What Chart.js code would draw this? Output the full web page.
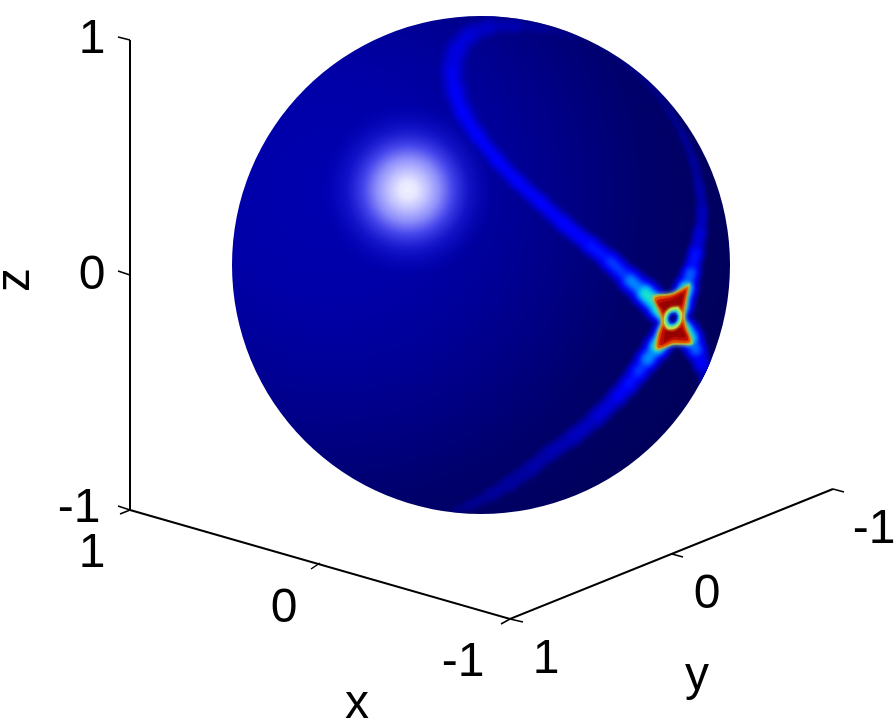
<!DOCTYPE html>
<html>
<head>
<meta charset="utf-8">
<style>
    body { margin: 0; background: #fff; }
    canvas { display: block; }
</style>
<script src="https://cdn.jsdelivr.net/npm/chart.js@4"></script>
</head>
<body>
<canvas id="myChart" width="896" height="721"></canvas>
<script>
const viewU = [-481, 415];
const viewV = [-456, 265];

const sphereU = [0];
const sphereV = [0];
const sphereR = [249];

const spotU = [-73];
const spotV = [75];
const spotR = [88];

// first ridge: over the top, down through the knot, out to the lower right
const ridgeAU = [94, 64, 36, 9, -11, -24, -29, -26, -18, -4, 16, 36, 59, 82, 109, 129, 149, 164, 179, 192, 203, 209, 215, 221, 225, 227];
const ridgeAV = [228, 236, 239, 238, 230, 215, 195, 175, 152, 130, 105, 84, 63, 42, 20, 4, -15, -28, -43, -55, -66, -73, -85, -100, -115, -127];
const ridgeALevel = [.02, .03, .05, .07, .09, .10, .11, .115, .12, .12, .12, .125, .125, .13, .15, .18, .24, .34, .5, .5, .5, .34, .2, .1, .05, .02];
const ridgeASpread = [3, 3.5, 4.5, 6, 8, 9, 9, 9, 8, 7, 6.5, 6, 6, 5.5, 5.5, 5.5, 6, 6.5, 6.5, 6, 6, 6, 5, 4.5, 4, 3];

// second ridge: from the bottom, through the knot, up along the limb
const ridgeBU = [-26, -11, 9, 29, 49, 69, 92, 116, 136, 147, 157, 166, 176, 186, 192, 199, 205, 210, 215, 219, 221, 218, 212, 202, 189, 169, 144, 119];
const ridgeBV = [-245, -240, -230, -218, -204, -188, -172, -152, -132, -120, -107, -95, -82, -67, -55, -40, -23, -7, 13, 33, 55, 80, 105, 130, 153, 180, 203, 220];
const ridgeBLevel = [.02, .028, .035, .042, .048, .055, .068, .085, .115, .14, .18, .25, .36, .5, .5, .5, .32, .2, .13, .09, .065, .05, .045, .04, .035, .03, .025, .02];
const ridgeBSpread = [4, 5, 5.5, 6, 6, 5.5, 5.5, 5.5, 5.5, 5.5, 5.5, 5.5, 6, 6, 6, 6, 5, 4.5, 4, 3.5, 3.5, 3, 3, 2.5, 2.5, 2.5, 3, 3];

const contourLevels = [.02, .035, .05, .07, .09, .11, .15, .19, .23, .27, .31, .35, .4, .45];
const contourColors = ['#000090', '#0000a0', '#0000b4', '#0000c8', '#0000e0', '#0000ff', '#001aff', '#0042ff', '#006bff', '#0094ff', '#00bdff', '#00dcdc', '#30e8c0', '#80e880'];

// the knot where the ridges cross, outermost contour first
const knotGreenU = [209, 191, 171, 176, 180, 176, 174, 192, 212, 207, 204, 206, 209];
const knotGreenV = [-18, -28, -31, -43, -57, -70, -85, -80, -79, -65, -52, -35, -18];
const knotYellowU = [208, 191, 172.5, 177.5, 181, 177, 175.5, 192, 210.5, 206, 203, 205, 208];
const knotYellowV = [-20, -29, -32, -44, -57, -70, -84, -79, -78, -65, -52, -36, -20];
const knotOrangeU = [207, 191, 174, 179, 182, 178, 177, 192, 209, 205, 202, 204, 207];
const knotOrangeV = [-22, -30, -33, -45, -57, -70, -83, -78, -77, -65, -52, -37, -22];
const knotRedU = [205, 191, 176, 181, 184, 180, 179, 192, 207, 203, 200, 202, 205];
const knotRedV = [-25, -32, -36, -46, -57, -70, -80, -75, -75, -64, -52, -38, -25];
const knotDarkTopU = [202, 191, 179, 186, 195, 200, 202];
const knotDarkTopV = [-29, -35, -39, -46, -41, -39, -29];
const knotDarkLowU = [183, 192, 204, 199, 191, 185, 183];
const knotDarkLowV = [-77, -72, -72, -63, -67, -65, -77];
const holeYellowU = [197, 201, 200, 195, 187, 183, 184, 190, 197];
const holeYellowV = [-42, -48, -57, -63, -64, -58, -49, -43, -42];
const holeCyanU = [196, 198, 198, 194, 188, 185.5, 186, 190.5, 196];
const holeCyanV = [-45, -49, -56, -60, -61, -57, -50, -46, -45];
const holeBlueU = [194.5, 196.5, 196, 193.5, 189.5, 187.5, 188, 191, 194.5];
const holeBlueV = [-47.5, -50.5, -55, -58, -58.5, -55.5, -51, -48, -47.5];
const holeDarkU = [193.5, 194.7, 194.4, 192.9, 190.5, 189.3, 189.6, 191.4, 193.5];
const holeDarkV = [-49.7, -51.5, -54.2, -56, -56.3, -54.5, -51.8, -50, -49.7];

// box axes and their ticks, null breaks the line
const axisU = [-351, -351, null, -351, 29, 352];
const axisV = [225, -245, null, -245, -354, -224];
const tickU = [-351, -363, null, -351, -363, null, -351, -363, null, -351, -361, null, -161, -170, null, 29, 20, null, 29, 42, null, 191, 202, null, 352, 363];
const tickV = [225, 228, null, -10, -6, null, -245, -241, null, -245, -249, null, -298, -304, null, -354, -359, null, -354, -357, null, -289, -292, null, -224, -227];

const tickLabels = ['1', '0', '-1', '1', '0', '-1', '1', '0', '-1'];
const tickLabelU = [-389, -389, -402, -389, -197, -18, 65, 226, 393];
const tickLabelV = [212, -24, -257, -302, -357, -411, -408, -343, -278];

const axisNames = ['x', 'y', 'z'];
const axisNameU = [-124, 216, -452];
const axisNameV = [-453, -425, -15];

function toPoints(us, vs) {
    return us.map((u, i) => (u === null ? { x: null, y: null } : { x: u, y: vs[i] }));
}

function sphereGradient(context) {
    const chart = context.chart;
    if (!chart.chartArea) return '#000080';
    const cx = chart.scales.x.getPixelForValue(-151);
    const cy = chart.scales.y.getPixelForValue(75);
    const g = chart.ctx.createRadialGradient(cx, cy, 0, cx, cy, 540);
    g.addColorStop(0, '#0000b0');
    g.addColorStop(0.2, '#0000a8');
    g.addColorStop(0.33, '#000098');
    g.addColorStop(0.45, '#000084');
    g.addColorStop(0.58, '#00006c');
    g.addColorStop(0.75, '#00005c');
    g.addColorStop(1, '#000058');
    return g;
}

function spotGradient(context) {
    const chart = context.chart;
    if (!chart.chartArea) return '#ffffff';
    const cx = chart.scales.x.getPixelForValue(spotU[0]);
    const cy = chart.scales.y.getPixelForValue(spotV[0]);
    const g = chart.ctx.createRadialGradient(cx, cy, 0, cx, cy, spotR[0]);
    g.addColorStop(0, '#f0f0ff');
    g.addColorStop(0.1, '#e6e6ff');
    g.addColorStop(0.22, '#c0c0ff');
    g.addColorStop(0.36, '#8c8cfa');
    g.addColorStop(0.5, 'rgba(76,76,240,0.95)');
    g.addColorStop(0.7, 'rgba(30,30,220,0.6)');
    g.addColorStop(1, 'rgba(0,0,190,0)');
    return g;
}

function ridgeDatasets(us, vs, levels, spreads) {
    return contourLevels.map((t, k) => {
        const mean = (c) => (levels[c.p0DataIndex] + levels[c.p1DataIndex]) / 2;
        const spread = (c) => (spreads[c.p0DataIndex] + spreads[c.p1DataIndex]) / 2;
        return {
            data: toPoints(us, vs),
            tension: 0.4,
            borderWidth: 1,
            borderColor: contourColors[k],
            borderCapStyle: 'round',
            borderJoinStyle: 'round',
            pointRadius: 0,
            softEdge: 2.5,
            composite: t <= 0.11 ? 'lighten' : 'source-over',
            segment: {
                borderColor: (c) => (mean(c) > t ? contourColors[k] : 'transparent'),
                borderWidth: (c) => (mean(c) > t ? 2 * spread(c) * Math.sqrt(2 * Math.log(mean(c) / t)) : 1)
            }
        };
    });
}

function patch(us, vs, color, soft) {
    return {
        data: toPoints(us, vs),
        tension: 0.3,
        fill: 'shape',
        backgroundColor: color,
        borderColor: color,
        borderWidth: 1.5,
        pointRadius: 0,
        softEdge: soft
    };
}

const datasets = [
    {
        type: 'bubble',
        data: [{ x: sphereU[0], y: sphereV[0], r: sphereR[0] }],
        backgroundColor: sphereGradient,
        borderWidth: 0
    },
    {
        type: 'bubble',
        data: [{ x: spotU[0], y: spotV[0], r: spotR[0] }],
        backgroundColor: spotGradient,
        borderWidth: 0
    },
    ...ridgeDatasets(ridgeAU, ridgeAV, ridgeALevel, ridgeASpread),
    ...ridgeDatasets(ridgeBU, ridgeBV, ridgeBLevel, ridgeBSpread),
    patch(knotGreenU, knotGreenV, '#50d0b0', 2),
    patch(knotYellowU, knotYellowV, '#b8d040', 1.5),
    patch(knotOrangeU, knotOrangeV, '#e86000', 1.5),
    patch(knotRedU, knotRedV, '#c81000', 1.5),
    patch(knotDarkTopU, knotDarkTopV, '#980000', 1.5),
    patch(knotDarkLowU, knotDarkLowV, '#980000', 1.5),
    patch(holeYellowU, holeYellowV, '#c8e040', 1),
    patch(holeCyanU, holeCyanV, '#40e8c8', 1),
    patch(holeBlueU, holeBlueV, '#0040e8', 0.8),
    patch(holeDarkU, holeDarkV, '#000098', 0.8),
    {
        data: toPoints(axisU, axisV),
        borderColor: '#000',
        borderWidth: 2,
        pointRadius: 0,
        tension: 0
    },
    {
        data: toPoints(tickU, tickV),
        borderColor: '#000',
        borderWidth: 1.5,
        pointRadius: 0,
        tension: 0
    }
];

// lower order is painted later
datasets.forEach((ds, i) => { ds.order = datasets.length - i; });

const softRidges = {
    id: 'softRidges',
    beforeDatasetDraw(chart, args) {
        const ds = chart.data.datasets[args.index];
        if (!ds.softEdge) return;
        const ctx = chart.ctx;
        const x = chart.scales.x;
        const y = chart.scales.y;
        ctx.save();
        ctx.beginPath();
        ctx.arc(x.getPixelForValue(sphereU[0]), y.getPixelForValue(sphereV[0]), sphereR[0], 0, Math.PI * 2);
        ctx.clip();
        ctx.filter = 'blur(' + ds.softEdge + 'px)';
        if (ds.composite) ctx.globalCompositeOperation = ds.composite;
    },
    afterDatasetDraw(chart, args) {
        if (chart.data.datasets[args.index].softEdge) chart.ctx.restore();
    }
};

const axisText = {
    id: 'axisText',
    afterDatasetsDraw(chart) {
        const ctx = chart.ctx;
        const x = chart.scales.x;
        const y = chart.scales.y;
        ctx.save();
        ctx.fillStyle = '#000';
        ctx.font = '48px "Liberation Sans", Arial, sans-serif';
        ctx.textAlign = 'center';
        ctx.textBaseline = 'alphabetic';
        tickLabels.forEach((label, i) => {
            ctx.fillText(label, x.getPixelForValue(tickLabelU[i]), y.getPixelForValue(tickLabelV[i]));
        });
        axisNames.forEach((name, i) => {
            ctx.save();
            ctx.translate(x.getPixelForValue(axisNameU[i]), y.getPixelForValue(axisNameV[i]));
            if (name === 'z') ctx.rotate(-Math.PI / 2);
            ctx.fillText(name, 0, 0);
            ctx.restore();
        });
        ctx.restore();
    }
};

const myChart = new Chart(document.getElementById('myChart'), {
    type: 'line',
    data: { datasets: datasets },
    options: {
        responsive: false,
        animation: false,
        devicePixelRatio: 1,
        events: [],
        layout: { padding: 0, autoPadding: false },
        plugins: {
            legend: { display: false },
            tooltip: { enabled: false }
        },
        scales: {
            x: { type: 'linear', display: false, min: viewU[0], max: viewU[1] },
            y: { type: 'linear', display: false, min: viewV[0], max: viewV[1] }
        }
    },
    plugins: [softRidges, axisText]
});
</script>
</body>
</html>
